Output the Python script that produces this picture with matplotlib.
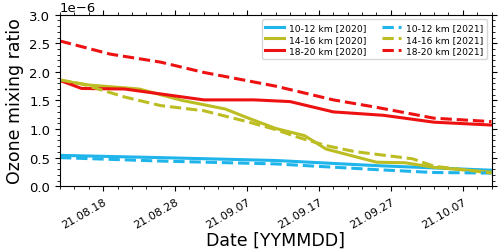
import pandas as pd
import matplotlib
matplotlib.use('Agg')
import matplotlib.pyplot as plt
import matplotlib.dates as mdates
from matplotlib.ticker import MultipleLocator

# Data (mixing ratio in 1e-6)
blue20_dates = ['2021-08-12', '2021-08-26', '2021-09-11', '2021-09-25', '2021-10-11']
blue20_vals = [0.54, 0.50, 0.45, 0.36, 0.28]
blue21_dates = ['2021-08-12', '2021-08-26', '2021-09-11', '2021-09-25', '2021-10-03', '2021-10-11']
blue21_vals = [0.50, 0.44, 0.39, 0.29, 0.24, 0.23]

olive20_dates = ['2021-08-12', '2021-08-16', '2021-08-23', '2021-08-29', '2021-09-04', '2021-09-07',
                 '2021-09-11', '2021-09-15', '2021-09-18', '2021-09-25', '2021-09-29', '2021-10-03',
                 '2021-10-11']
olive20_vals = [1.85, 1.77, 1.70, 1.50, 1.35, 1.20, 1.01, 0.885, 0.65, 0.42, 0.41, 0.33, 0.245]
olive21_dates = ['2021-08-12', '2021-08-15', '2021-08-21', '2021-08-26', '2021-09-01', '2021-09-07',
                 '2021-09-11', '2021-09-14', '2021-09-18', '2021-09-22', '2021-09-30', '2021-10-03',
                 '2021-10-11']
olive21_vals = [1.86, 1.79, 1.56, 1.41, 1.32, 1.13, 0.99, 0.86, 0.71, 0.605, 0.48, 0.35, 0.23]

red20_dates = ['2021-08-12', '2021-08-15', '2021-08-21', '2021-09-01', '2021-09-08', '2021-09-13',
               '2021-09-19', '2021-09-26', '2021-10-03', '2021-10-11']
red20_vals = [1.85, 1.71, 1.70, 1.51, 1.51, 1.48, 1.30, 1.24, 1.12, 1.07]
red21_dates = ['2021-08-12', '2021-08-19', '2021-08-26', '2021-09-01', '2021-09-11', '2021-09-19',
               '2021-09-25', '2021-10-03', '2021-10-11']
red21_vals = [2.54, 2.31, 2.17, 1.99, 1.75, 1.51, 1.38, 1.19, 1.13]

c_blue = '#1fb4ea'
c_olive = '#bcbd22'
c_red = '#ee1111'

fig = plt.figure(figsize=(5, 2.53), dpi=100)
ax = fig.add_axes([0.12, 0.26, 0.863, 0.678])

def plot_line(dates, vals, color, ls, label):
    ax.plot(pd.to_datetime(dates), [v * 1e-6 for v in vals], color=color, ls=ls, lw=2.2, label=label)

plot_line(blue20_dates, blue20_vals, c_blue, '-', '10-12 km [2020]')
plot_line(olive20_dates, olive20_vals, c_olive, '-', '14-16 km [2020]')
plot_line(red20_dates, red20_vals, c_red, '-', '18-20 km [2020]')
plot_line(blue21_dates, blue21_vals, c_blue, '--', '10-12 km [2021]')
plot_line(olive21_dates, olive21_vals, c_olive, '--', '14-16 km [2021]')
plot_line(red21_dates, red21_vals, c_red, '--', '18-20 km [2021]')

ax.set_xlim(pd.Timestamp('2021-08-12'), pd.Timestamp('2021-10-11'))
ax.set_ylim(0, 3e-6)
ax.set_xticks(pd.date_range('2021-08-18', periods=6, freq='10D'))
ax.set_xticks(pd.date_range('2021-08-12', '2021-10-11', freq='2D'), minor=True)
ax.xaxis.set_major_formatter(mdates.DateFormatter('%y.%m.%d'))
ax.yaxis.set_major_locator(MultipleLocator(0.5e-6))
ax.yaxis.set_minor_locator(MultipleLocator(0.1e-6))
ax.tick_params(which='both', top=True, right=True, direction='out', labelsize=9.5)
ax.tick_params(which='major', length=3.5)
ax.tick_params(which='minor', length=2)
ax.tick_params(axis='x', labelsize=8)
plt.setp(ax.get_xticklabels(), rotation=30, ha='right', rotation_mode='anchor')
ax.yaxis.get_offset_text().set_fontsize(9.5)

ax.set_xlabel('Date [YYMMDD]', fontsize=12.5, labelpad=1)
ax.set_ylabel('Ozone mixing ratio', fontsize=12.5)
ax.legend(ncol=2, loc='upper right', fontsize=6.6, handlelength=2.0, columnspacing=1.7,
          labelspacing=0.3, borderpad=0.4, handletextpad=0.6)

plt.savefig('out.png', dpi=100)
